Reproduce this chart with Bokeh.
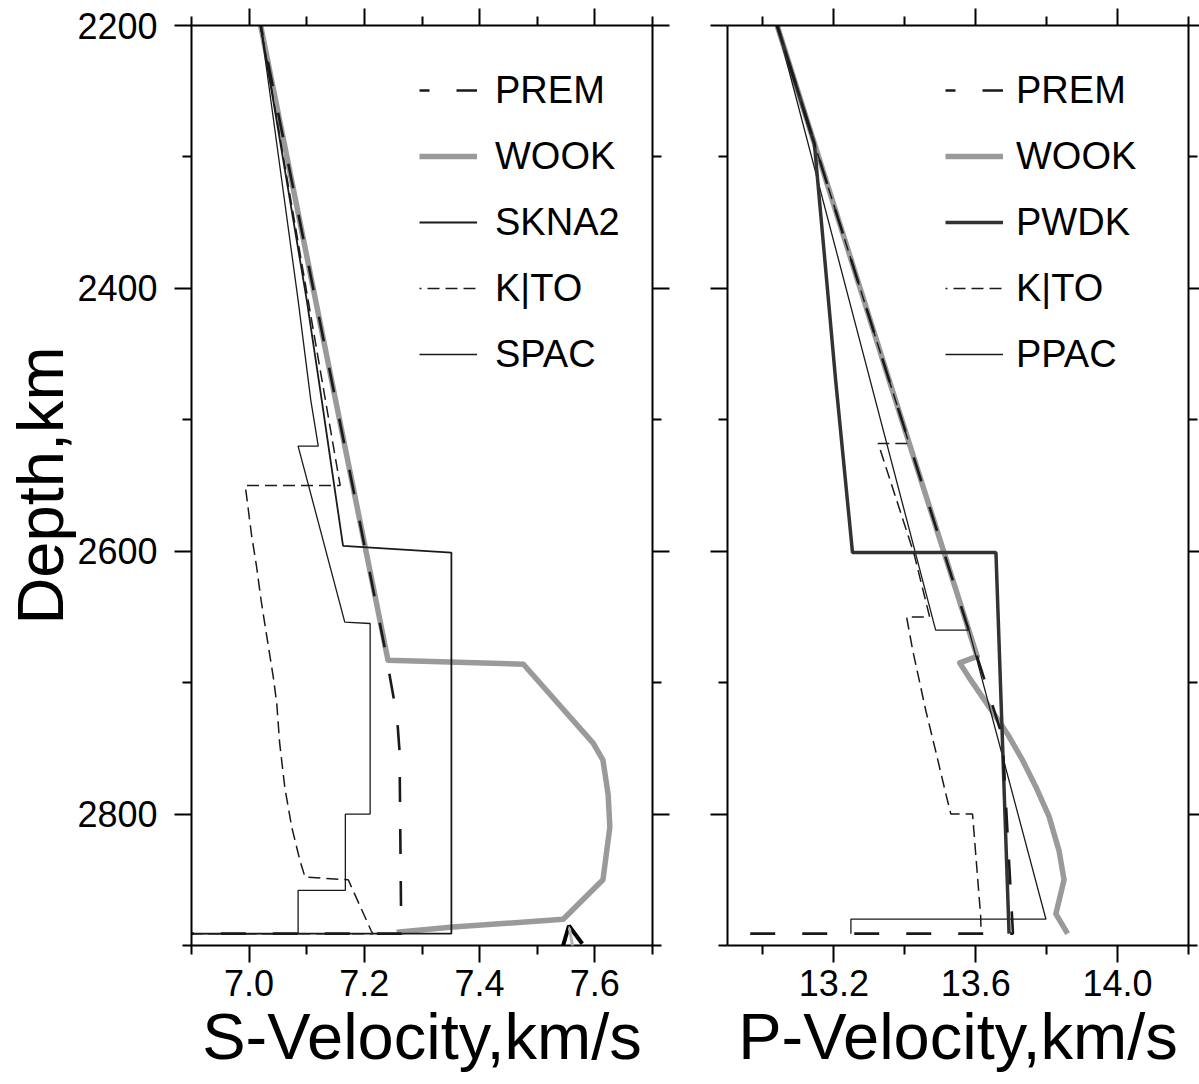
from bokeh.plotting import figure
from bokeh.layouts import row
from bokeh.models import (Range1d, FixedTicker, LinearAxis, NumeralTickFormatter,
                          Legend, LegendItem, Arrow, OpenHead, CustomLabelingPolicy)
from bokeh.embed import file_html
from bokeh.resources import INLINE

FONT = "Liberation Sans"

# ---------------- data ----------------
depth_range = (2900, 2200)
depth_ticks = [2200, 2400, 2600, 2800]
depth_minor = [2300, 2500, 2700, 2900]

vs_range = (6.9, 7.7)
vs_ticks = [7.0, 7.2, 7.4, 7.6]
vs_minor = [6.9, 7.1, 7.3, 7.5, 7.7]

vp_range = (12.9, 14.2)
vp_ticks = [13.2, 13.6, 14.0]
vp_minor = [13.0, 13.4, 13.8, 14.2]

# S-velocity models
prem_s_depth = [2200, 2485, 2675, 2695, 2712, 2734, 2752, 2891, 2891]
prem_s_vel = [7.02, 7.150, 7.236, 7.244, 7.251, 7.258, 7.261, 7.264, 0.0]

wook_s_depth = [2200, 2485, 2683, 2686, 2746, 2759, 2785, 2810, 2830, 2850, 2880, 2886, 2890]
wook_s_vel = [7.02, 7.150, 7.241, 7.476, 7.597, 7.614, 7.623, 7.626, 7.620, 7.614, 7.545, 7.354, 7.256]

skna2_depth = [2200, 2409, 2485, 2596, 2601, 2891, 2891]
skna2_vel = [7.02, 7.100, 7.126, 7.163, 7.351, 7.351, 0.0]

kito_s_depth = [2200, 2550, 2550, 2556, 2587, 2612, 2638, 2663, 2696, 2716, 2746, 2780,
                2810, 2835, 2848, 2850, 2889, 2891, 2891]
kito_s_vel = [7.02, 7.158, 6.993, 6.995, 7.004, 7.013, 7.021, 7.030, 7.042, 7.048, 7.053, 7.062,
              7.074, 7.088, 7.097, 7.172, 7.212, 7.215, 0.0]

spac_depth = [2200, 2409, 2485, 2520, 2520, 2654, 2655, 2800, 2800, 2858, 2858, 2891, 2891]
spac_vel = [7.02, 7.085, 7.107, 7.120, 7.085, 7.166, 7.210, 7.210, 7.167, 7.167, 7.085, 7.085, 0.0]

# P-velocity models
prem_p_depth = [2200, 2470, 2693, 2741, 2891, 2891]
prem_p_vel = [13.04, 13.356, 13.619, 13.675, 13.705, 0.0]

wook_p_depth = [2200, 2470, 2680, 2685, 2696, 2711, 2726, 2741, 2759, 2779, 2802, 2828, 2850, 2876, 2891]
wook_p_vel = [13.04, 13.356, 13.604, 13.555, 13.581, 13.619, 13.657, 13.694, 13.732, 13.769,
              13.807, 13.835, 13.849, 13.826, 13.859]

pwdk_depth = [2200, 2290, 2470, 2601, 2601, 2891]
pwdk_vel = [13.04, 13.145, 13.205, 13.2525, 13.657, 13.694]

kito_p_depth = [2200, 2518, 2518, 2602, 2650, 2650, 2675, 2721, 2752, 2785, 2800, 2800, 2878, 2891]
kito_p_vel = [13.04, 13.412, 13.325, 13.426, 13.47, 13.405, 13.422, 13.459, 13.487, 13.516,
              13.53, 13.591, 13.614, 13.615]

ppac_depth = [2200, 2660, 2660, 2880, 2880, 2891]
ppac_vel = [13.04, 13.487, 13.581, 13.798, 13.248, 13.248]

# arrow pointing at the WOOK feature (tail below the panel, tip at the kink)
arrow_vs = [7.603, 7.555]
arrow_depth = [3003, 2885]

# ---------------- styling helpers ----------------
HIDE_JS = """
const ids = Array.from(indices.ones());
for (const i of ids) { indices.set(i, false); }
return indices;
"""


def style_axis(ax, ticks, minor, labels, fmt=None, out_major=17, out_minor=9):
    ax.ticker = FixedTicker(ticks=ticks, minor_ticks=minor)
    ax.major_tick_out = out_major
    ax.major_tick_in = 0
    ax.minor_tick_out = out_minor
    ax.minor_tick_in = 0
    ax.axis_line_width = 2
    ax.major_tick_line_width = 2
    ax.minor_tick_line_width = 2
    ax.axis_line_color = "black"
    ax.major_tick_line_color = "black"
    ax.minor_tick_line_color = "black"
    if fmt is not None:
        ax.formatter = NumeralTickFormatter(format=fmt)
    if labels:
        ax.major_label_text_font = FONT
        ax.major_label_text_font_size = "36px"
        ax.major_label_text_color = "black"
    else:
        ax.major_label_text_font_size = "0px"
        ax.major_label_standoff = 0
        ax.major_label_policy = CustomLabelingPolicy(code=HIDE_JS)


def make_panel(xr, xt, xm, xlabel, width, bl, br, ylabels, right_out):
    p = figure(width=width, height=1084, x_range=Range1d(*xr), y_range=Range1d(*depth_range),
               output_backend="svg", toolbar_location=None,
               x_axis_location=None, y_axis_location=None,
               min_border_left=bl, min_border_right=br, min_border_top=25, min_border_bottom=139)
    p.outline_line_color = None
    p.background_fill_color = "white"
    p.border_fill_color = "white"
    p.xgrid.visible = False
    p.ygrid.visible = False

    bottom = LinearAxis(axis_label=xlabel)
    style_axis(bottom, xt, xm, True, "0.0")
    bottom.major_label_standoff = 7
    bottom.axis_label_standoff = 1
    bottom.axis_label_text_font = FONT
    bottom.axis_label_text_font_size = "65px"
    bottom.axis_label_text_font_style = "normal"
    bottom.axis_label_text_color = "black"
    p.add_layout(bottom, "below")

    top = LinearAxis()
    style_axis(top, xt, xm, False)
    p.add_layout(top, "above")

    left = LinearAxis(axis_label="Depth,km" if ylabels else None)
    style_axis(left, depth_ticks, depth_minor, ylabels, "0")
    if ylabels:
        left.major_label_standoff = 17
        left.axis_label_standoff = -3
        left.axis_label_text_font = FONT
        left.axis_label_text_font_size = "65px"
        left.axis_label_text_font_style = "normal"
        left.axis_label_text_color = "black"
    p.add_layout(left, "left")

    right = LinearAxis()
    style_axis(right, depth_ticks, depth_minor, False, None, right_out, min(9, right_out))
    p.add_layout(right, "right")
    return p


def add_legend(p, items, x, standoff):
    leg = Legend(items=[LegendItem(label=l, renderers=[r]) for l, r in items],
                 location=(x, 569), orientation="vertical",
                 glyph_width=58, glyph_height=44, spacing=22, padding=0, margin=0,
                 label_standoff=standoff, label_text_font=FONT, label_text_font_size="38px",
                 label_text_color="black", border_line_color=None, background_fill_alpha=0)
    p.add_layout(leg)


DARK = "#1a1a1a"
GRAY = "#9a9a9a"

# ---------------- S panel ----------------
p1 = make_panel(vs_range, vs_ticks, vs_minor, "S-Velocity,km/s", 689, 191, 37, True, 17)
r_wook_s = p1.line(wook_s_vel, wook_s_depth, line_color=GRAY, line_width=5.5, line_join="round")
r_spac = p1.line(spac_vel, spac_depth, line_color=DARK, line_width=1.3)
r_skna2 = p1.line(skna2_vel, skna2_depth, line_color=DARK, line_width=1.8)
r_kito_s = p1.line(kito_s_vel, kito_s_depth, line_color=DARK, line_width=1.5,
                   line_dash="12 6", line_dash_offset=10)
r_prem_s = p1.line(prem_s_vel, prem_s_depth, line_color=DARK, line_width=2.6,
                   line_dash="25 27", line_dash_offset=15)
p1.add_layout(Arrow(end=OpenHead(size=20, line_width=4, line_color="black"),
                    x_start=arrow_vs[0], y_start=arrow_depth[0],
                    x_end=arrow_vs[1], y_end=arrow_depth[1],
                    line_color="#b5b5b5", line_width=3, level="overlay"))
add_legend(p1, [("PREM", r_prem_s), ("WOOK", r_wook_s), ("SKNA2", r_skna2),
                ("K|TO", r_kito_s), ("SPAC", r_spac)], 228, 18)

# ---------------- P panel ----------------
p2 = make_panel(vp_range, vp_ticks, vp_minor, "P-Velocity,km/s", 510, 38, 11, False, 11)
r_wook_p = p2.line(wook_p_vel, wook_p_depth, line_color=GRAY, line_width=5.5, line_join="round")
r_ppac = p2.line(ppac_vel, ppac_depth, line_color=DARK, line_width=1.3)
r_pwdk = p2.line(pwdk_vel, pwdk_depth, line_color="#333333", line_width=3.5)
r_kito_p = p2.line(kito_p_vel, kito_p_depth, line_color=DARK, line_width=1.5,
                   line_dash="12 6", line_dash_offset=10)
r_prem_p = p2.line(prem_p_vel, prem_p_depth, line_color=DARK, line_width=2.6,
                   line_dash="25 27", line_dash_offset=15)
add_legend(p2, [("PREM", r_prem_p), ("WOOK", r_wook_p), ("PWDK", r_pwdk),
                ("K|TO", r_kito_p), ("PPAC", r_ppac)], 218, 13)

layout = row(p1, p2)
open("out.html", "w").write(file_html(layout, INLINE))
